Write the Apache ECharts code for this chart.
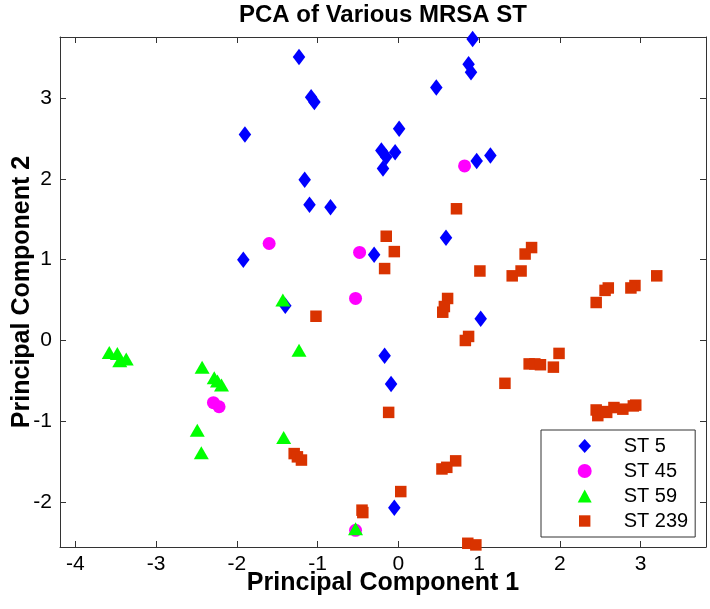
<!DOCTYPE html>
<html>
<head>
<meta charset="utf-8">
<script src="https://cdn.jsdelivr.net/npm/echarts@6/dist/echarts.min.js"></script>
<style>html,body{margin:0;padding:0;background:#fff}#c{width:710px;height:609px}</style>
</head>
<body>
<div id="c"></div>
<script>
const titleText = 'PCA of Various MRSA ST';
const xName = 'Principal Component 1';
const yName = 'Principal Component 2';
const seriesNames = ['ST 5', 'ST 45', 'ST 59', 'ST 239'];
const xTicks = [-4, -3, -2, -1, 0, 1, 2, 3];
const yTicks = [-2, -1, 0, 1, 2, 3];

const st5 = [
  [-1.90, 2.55], [-1.92, 1.00], [-1.23, 3.51], [-1.08, 3.01], [-1.04, 2.95],
  [0.92, 3.73], [0.87, 3.42], [0.90, 3.32], [0.47, 3.13], [0.01, 2.62],
  [-0.21, 2.35], [-0.04, 2.33], [-0.15, 2.27], [-0.19, 2.13], [0.97, 2.22],
  [1.14, 2.29], [-1.16, 1.99], [-1.10, 1.68], [-0.84, 1.65], [0.59, 1.27],
  [-0.30, 1.06], [-1.40, 0.43], [1.02, 0.27], [-0.17, -0.19], [-0.09, -0.54],
  [-0.05, -2.07]
];
const st45 = [
  [-1.60, 1.20], [0.82, 2.16], [-0.48, 1.09], [-0.53, 0.52],
  [-2.29, -0.77], [-2.22, -0.82], [-0.53, -2.35]
];
const st59 = [
  [-3.58, -0.15], [-3.48, -0.16], [-3.37, -0.23], [-3.45, -0.25],
  [-2.43, -0.33], [-2.28, -0.46], [-2.24, -0.50], [-2.19, -0.55],
  [-2.49, -1.11], [-2.44, -1.39], [-1.43, 0.50], [-1.23, -0.12],
  [-1.42, -1.20], [-0.53, -2.33]
];
const st239 = [
  [0.72, 1.63], [-0.15, 1.29], [-0.05, 1.10], [-0.17, 0.89], [1.01, 0.86],
  [1.65, 1.15], [1.57, 1.07], [1.52, 0.86], [1.41, 0.80], [3.20, 0.80],
  [2.60, 0.65], [2.56, 0.62], [2.93, 0.68], [2.88, 0.65], [2.45, 0.47],
  [-1.02, 0.30], [0.61, 0.52], [0.57, 0.42], [0.55, 0.35], [0.87, 0.05],
  [0.83, 0.00], [-0.12, -0.89], [1.62, -0.29], [1.69, -0.29], [1.76, -0.30],
  [1.92, -0.33], [1.99, -0.16], [1.32, -0.53],
  [2.45, -0.86], [2.47, -0.93], [2.54, -0.88], [2.58, -0.89], [2.67, -0.83],
  [2.78, -0.85], [2.91, -0.81], [2.94, -0.80],
  [-1.29, -1.40], [-1.25, -1.44], [-1.20, -1.48],
  [0.71, -1.49], [0.54, -1.59], [0.60, -1.57], [0.03, -1.87],
  [-0.45, -2.10], [-0.44, -2.13], [0.86, -2.51], [0.96, -2.53]
];

const colors = ['#0000ff', '#ff00ff', '#00ff00', '#d93300'];
const symbols = ['diamond', 'circle', 'triangle', 'rect'];
const sizes = [[12.5, 16.5], 13, [15, 13], 11.5];
const legendIcons = [
  'path://M6.3,0L12.6,7L6.3,14L0,7Z',
  'circle',
  'path://M7,0.6L14,13.4L0,13.4Z',
  'path://M0,0M14,14M1.3,1.3L12.7,1.3L12.7,12.7L1.3,12.7Z'
];
const dataSets = [st5, st45, st59, st239];

const font = 'Liberation Sans, Arial, Helvetica, sans-serif';
const axisColor = '#333';
const X_MIN = -4.19, X_MAX = 3.81, Y_MIN = -2.556, Y_MAX = 3.756;

const chart = echarts.init(document.getElementById('c'));
const baseAxis = {
  type: 'value',
  splitLine: { show: false },
  nameMoveOverlap: false,
  axisLine: { show: true, onZero: false, lineStyle: { color: axisColor, width: 1 } },
  axisTick: { show: true, inside: true, length: 6, lineStyle: { color: axisColor } },
};
chart.setOption({
  animation: false,
  grid: { left: 60, right: 4, top: 37, bottom: 62, containLabel: false, outerBoundsMode: 'none' },
  xAxis: [
    Object.assign({}, baseAxis, {
      position: 'bottom', min: X_MIN, max: X_MAX,
      name: xName, nameLocation: 'middle', nameGap: 24,
      nameTextStyle: { fontFamily: font, fontWeight: 'bold', fontSize: 25, color: '#000' },
      axisTick: Object.assign({}, baseAxis.axisTick, { customValues: xTicks }),
      axisLabel: { customValues: xTicks, margin: 7, fontFamily: font, fontSize: 21, color: '#000' }
    }),
    Object.assign({}, baseAxis, {
      position: 'top', min: X_MIN, max: X_MAX,
      name: titleText, nameLocation: 'middle', nameGap: 10,
      nameTextStyle: { fontFamily: font, fontWeight: 'bold', fontSize: 24, color: '#000' },
      axisTick: Object.assign({}, baseAxis.axisTick, { customValues: xTicks }),
      axisLabel: { show: false }
    })
  ],
  yAxis: [
    Object.assign({}, baseAxis, {
      position: 'left', min: Y_MIN, max: Y_MAX,
      name: yName, nameLocation: 'middle', nameGap: 25,
      nameTextStyle: { fontFamily: font, fontWeight: 'bold', fontSize: 25, color: '#000' },
      axisTick: Object.assign({}, baseAxis.axisTick, { customValues: yTicks }),
      axisLabel: { customValues: yTicks, margin: 8, fontFamily: font, fontSize: 21, color: '#000' }
    }),
    Object.assign({}, baseAxis, {
      position: 'right', min: Y_MIN, max: Y_MAX,
      axisTick: Object.assign({}, baseAxis.axisTick, { customValues: yTicks }),
      axisLabel: { show: false }
    })
  ],
  legend: {
    orient: 'vertical', left: 541, top: 430,
    padding: [6, 7, 6, 36.7], itemGap: 5, itemWidth: 14, itemHeight: 14,
    backgroundColor: '#fff', borderColor: axisColor, borderWidth: 1,
    textStyle: { fontFamily: font, fontSize: 20, lineHeight: 20, color: '#000', padding: [0, 0, 0, 27] },
    data: seriesNames.map((n, i) => ({ name: n, icon: legendIcons[i] }))
  },
  series: dataSets.map((d, i) => ({
    name: seriesNames[i], type: 'scatter', data: d, clip: false,
    symbol: symbols[i], symbolSize: sizes[i],
    itemStyle: { color: colors[i], opacity: 1 }
  }))
});
</script>
</body>
</html>
